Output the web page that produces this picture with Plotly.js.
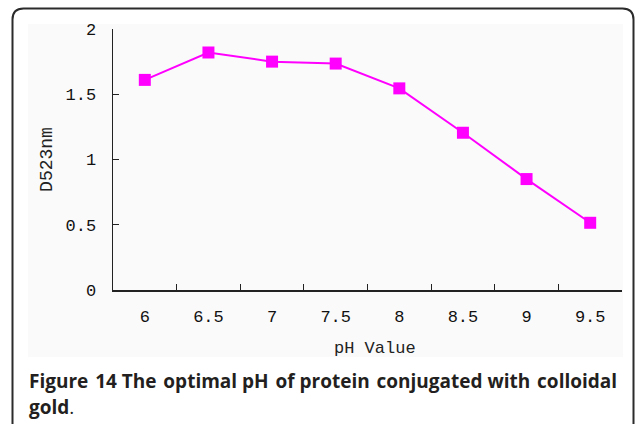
<!DOCTYPE html>
<html><head><meta charset="utf-8">
<script src="https://cdn.plot.ly/plotly-3.0.1.min.js"></script>
<style>html,body{margin:0;padding:0;background:#fff}#chart{width:637px;height:424px}</style>
</head><body><div id="chart"></div>
<script>
const phLabels = ["6", "6.5", "7", "7.5", "8", "8.5", "9", "9.5"];
const absorbance = [1.61, 1.82, 1.75, 1.735, 1.545, 1.205, 0.85, 0.515];
const yTitle = "D523nm";
const xTitle = "pH Value";
const captionWords1 = ["Figure", "14", "The", "optimal", "pH", "of", "protein", "conjugated", "with", "colloidal"];
const captionLine2 = "<b>gold</b>.";

const W = 637, H = 424;
const L = 113, R = 622, T = 29, B = 290;
const px = v => (v - L) / (R - L);
const py = v => (B - v) / (B - T);

function framePath(x0, y0, x1, y1, r) {
  return `M ${px(x0)} ${py(y1)} L ${px(x0)} ${py(y0 + r)} Q ${px(x0)} ${py(y0)} ${px(x0 + r)} ${py(y0)} ` +
         `L ${px(x1 - r)} ${py(y0)} Q ${px(x1)} ${py(y0)} ${px(x1)} ${py(y0 + r)} L ${px(x1)} ${py(y1)}`;
}

const trace = {
  x: phLabels, y: absorbance, type: 'scatter', mode: 'lines+markers',
  line: {color: '#ff00ff', width: 2},
  marker: {symbol: 'square', size: 12, color: '#ff00ff'},
  cliponaxis: false, hoverinfo: 'skip'
};

const monoFamily = 'Liberation Mono, DejaVu Sans Mono, monospace';
const tickFont = {family: monoFamily, size: 17, color: '#111'};
const capFont = {family: 'Open Sans, Noto Sans, sans-serif', size: 19, color: '#231f20'};
// slightly widened word gaps (every other gap) to imitate the justified caption line
const captionLine1 = '<b>' + captionWords1.map((w, i) => i === 0 ? w : (i % 2 ? ' \u200A' : ' ') + w).join('') + '</b>';

const layout = {
  width: W, height: H,
  margin: {l: L, r: W - R, t: T, b: H - B},
  paper_bgcolor: '#ffffff', plot_bgcolor: 'rgba(0,0,0,0)',
  showlegend: false,
  xaxis: {
    type: 'category', range: [-0.5, 7.5],
    showline: true, linecolor: '#222', linewidth: 1.5,
    ticks: 'inside', ticklen: 6, tickcolor: '#222', tickwidth: 1.2,
    tickson: 'boundaries', showgrid: false, zeroline: false,
    tickfont: tickFont, ticklabelstandoff: 10
  },
  yaxis: {
    range: [0, 2], dtick: 0.5, tick0: 0,
    showline: true, linecolor: '#222', linewidth: 1.5,
    ticks: 'inside', ticklen: 6, tickcolor: '#222', tickwidth: 1.2,
    showgrid: false, zeroline: false,
    tickfont: tickFont, ticklabelstandoff: 12,
    title: {text: yTitle, font: {family: monoFamily, size: 18, color: '#222'}, standoff: 8}
  },
  shapes: [
    {type: 'rect', xref: 'paper', yref: 'paper', layer: 'below',
     x0: px(28), x1: px(623), y0: py(357), y1: py(24),
     fillcolor: '#fafafa', line: {width: 0}},
    {type: 'path', xref: 'paper', yref: 'paper', layer: 'above',
     path: framePath(12.5, 8.5, 633.5, 430, 11),
     line: {color: '#2b2b2b', width: 2}}
  ],
  annotations: [
    {xref: 'paper', yref: 'paper', x: px(375), y: py(348), xanchor: 'center', yanchor: 'middle',
     text: xTitle, showarrow: false,
     font: {family: monoFamily, size: 17, color: '#222'}},
    {xref: 'paper', yref: 'paper', x: px(27), y: py(381), xanchor: 'left', yanchor: 'middle',
     text: captionLine1, showarrow: false, font: capFont},
    {xref: 'paper', yref: 'paper', x: px(27), y: py(407), xanchor: 'left', yanchor: 'middle',
     text: captionLine2, showarrow: false, font: capFont}
  ]
};

Plotly.newPlot('chart', [trace], layout, {staticPlot: true, displayModeBar: false});
</script></body></html>
